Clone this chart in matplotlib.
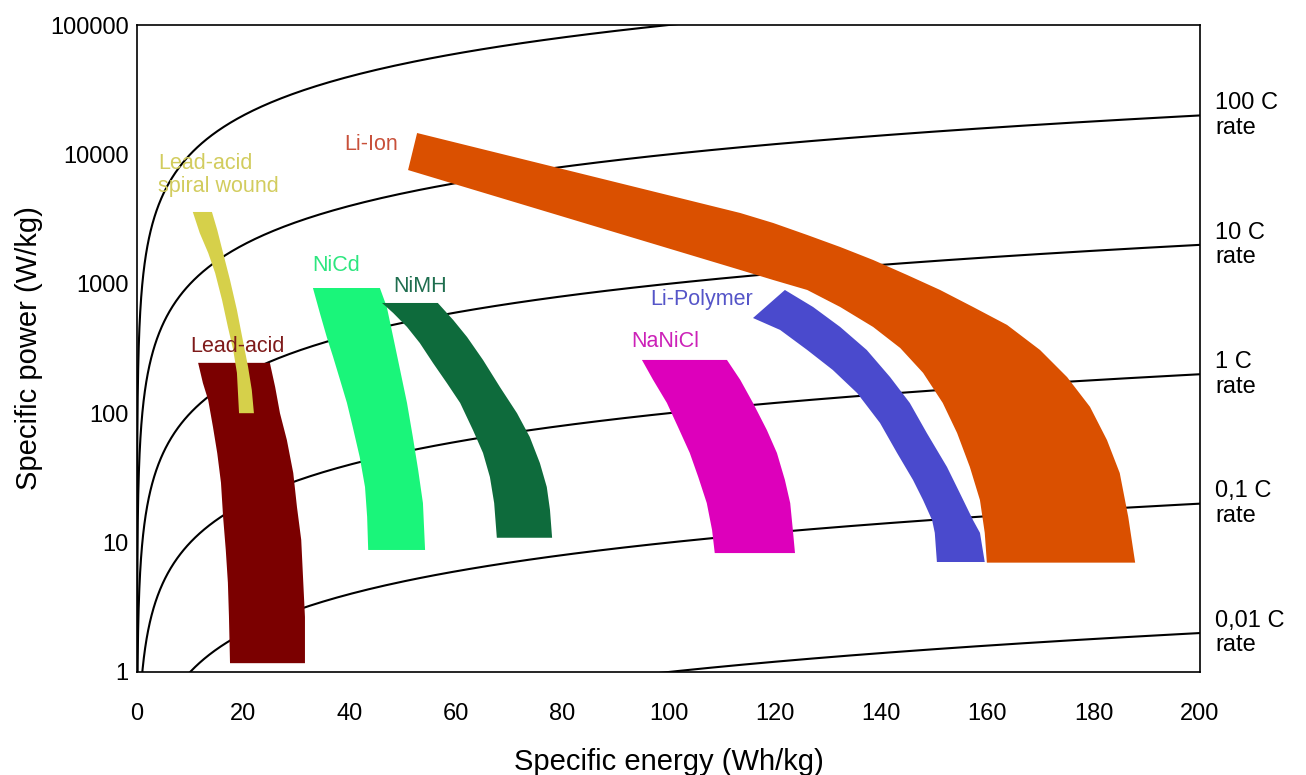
# Ragone plot: specific power vs specific energy with C-rate lines

import numpy as np
import matplotlib
matplotlib.use('Agg')
import matplotlib.pyplot as plt

plt.rcParams['font.family'] = ['Liberation Sans', 'DejaVu Sans']

# C-rate reference lines (P = C * E)
c_rates = [1000, 100, 10, 1, 0.1, 0.01]
c_labels = ['', '100 C\nrate', '10 C\nrate', '1 C\nrate', '0,1 C\nrate', '0,01 C\nrate']

# Lead-acid (edges read top -> bottom)
la_left_E = [11.5, 12.4, 13.4, 14.3, 15.1, 15.8, 16.2, 16.7, 17.1, 17.3, 17.5]
la_left_P = [245, 171, 126, 78, 49, 29, 15.8, 8.8, 4.9, 2.7, 1.17]
la_right_E = [25.0, 26.0, 26.9, 28.2, 29.4, 30.1, 30.9, 31.2, 31.6, 31.6]
la_right_P = [245, 159, 100, 62, 34.5, 18.8, 10.5, 5.8, 2.66, 1.17]

# Lead-acid spiral wound
sw_left_E = [10.5, 11.8, 13.4, 14.7, 16.0, 17.1, 18.1, 18.8, 19.0, 19.2]
sw_left_P = [3590, 2470, 1730, 1212, 750, 464, 308, 205, 143, 100]
sw_right_E = [14.1, 15.1, 16.2, 17.5, 18.8, 19.9, 20.9, 21.6, 22.0]
sw_right_P = [3590, 2605, 1730, 1070, 628, 368, 228, 151, 100]

# NiCd
nicd_left_E = [33.1, 34.4, 35.7, 36.9, 38.2, 39.5, 40.6, 41.9, 42.9, 43.3, 43.5]
nicd_left_P = [928, 595, 388, 272, 181, 120, 78, 45.9, 26.9, 15.8, 8.77]
nicd_right_E = [45.7, 47.0, 48.2, 49.5, 50.8, 51.9, 52.9, 53.8, 54.2]
nicd_right_P = [928, 662, 388, 216, 120, 65.5, 36.4, 20.2, 8.77]

# NiMH
nimh_left_E = [46.1, 48.2, 50.8, 53.2, 55.7, 58.3, 60.8, 63.2, 65.1, 66.4, 67.2, 67.7]
nimh_left_P = [711, 595, 464, 349, 244, 171, 120, 74.2, 49.3, 32.1, 20.2, 10.9]
nimh_right_E = [56.6, 59.5, 62.1, 65.1, 68.3, 71.5, 73.9, 75.8, 77.1, 77.7, 78.1]
nimh_right_P = [711, 525, 388, 258, 159, 100, 65.5, 41.2, 26.9, 17.9, 10.9]

# NaNiCl
nanicl_left_E = [95.0, 97.1, 99.7, 101.8, 104.0, 105.6, 107.2, 108.2, 108.7]
nanicl_left_P = [258, 181, 120, 78, 49.3, 32.1, 20.2, 12.5, 8.3]
nanicl_right_E = [111.0, 113.5, 115.9, 118.5, 120.4, 121.9, 122.9, 123.4, 123.8]
nanicl_right_P = [258, 181, 120, 74.2, 49.3, 30.5, 20.2, 12.5, 8.3]

# Li-Polymer (outer = upper-right edge, inner = lower-left edge)
lp_outer_E = [121.9, 127.2, 132.3, 137.3, 141.7, 145.4, 148.6, 152.4, 154.8, 157.3, 158.6, 159.5]
lp_outer_P = [896, 662, 464, 308, 190, 120, 70.3, 38.4, 24.2, 14.9, 11.9, 7.08]
lp_inner_E = [115.9, 121.0, 126.1, 130.9, 135.5, 139.8, 143.0, 146.0, 147.9, 149.6, 150.1, 150.5]
lp_inner_P = [544, 440, 308, 216, 143, 84, 49.3, 30.5, 21.3, 14.9, 11.9, 7.08]

# Li-Ion
li_upper_E = [52.7, 113.5, 119.7, 126.1, 132.3, 138.5, 144.9, 151.1, 157.3, 163.7, 169.9,
              175.0, 179.3, 182.5, 184.9, 186.5, 187.8]
li_upper_P = [14630, 3525, 2951, 2384, 1925, 1528, 1170, 896, 662, 481, 308,
              190, 112, 62, 34.5, 15.8, 7.0]
li_lower_E = [51.0, 113.5, 119.7, 126.1, 132.3, 138.5, 143.6, 147.9, 151.6, 154.3, 156.7,
              158.6, 159.5, 159.9]
li_lower_P = [7570, 1279, 1070, 896, 662, 464, 319, 205, 120, 70.3, 38.4,
              21.3, 11.9, 7.0]

fig = plt.figure(figsize=(13.06, 7.75), dpi=100)
ax = fig.add_axes([137/1306, 1-672/775, 1063/1306, 647/775])
ax.set_yscale('log')
ax.set_xlim(0, 200)
ax.set_ylim(1, 100000)

# C-rate curves
E = np.geomspace(1e-4, 200, 800)
for c, lab in zip(c_rates, c_labels):
    ax.plot(E, c*E, color='black', lw=1.5, zorder=1)
    if lab:
        ax.annotate(lab, xy=(200, c*200), xytext=(15, 0), textcoords='offset pixels',
                    va='center', ha='left', fontsize=17, linespacing=1.15,
                    annotation_clip=False)

def band(aE, aP, bE, bP, color, z):
    # outline: edge a in order, then edge b reversed
    xs = list(aE) + list(bE)[::-1]
    ys = list(aP) + list(bP)[::-1]
    ax.fill(xs, ys, color=color, lw=0, zorder=z)

band(la_left_E, la_left_P, la_right_E, la_right_P, '#7B0000', 2)
band(sw_left_E, sw_left_P, sw_right_E, sw_right_P, '#D6D04A', 3)
band(nicd_left_E, nicd_left_P, nicd_right_E, nicd_right_P, '#1AF57A', 2)
band(nimh_left_E, nimh_left_P, nimh_right_E, nimh_right_P, '#0E6B3C', 3)
band(nanicl_left_E, nanicl_left_P, nanicl_right_E, nanicl_right_P, '#DD00BB', 2)
band(lp_outer_E, lp_outer_P, lp_inner_E, lp_inner_P, '#4A4ACD', 2)
band(li_upper_E, li_upper_P, li_lower_E, li_lower_P, '#DA5000', 3)

# region labels
lab_kw = dict(fontsize=15.5, va='center', ha='left', zorder=4, linespacing=1.12)
ax.text(4.0, 6900, 'Lead-acid\nspiral wound', color='#D2CC5E', **lab_kw)
ax.text(39.0, 12000, 'Li-Ion', color='#C8503A', **lab_kw)
ax.text(32.9, 1375, 'NiCd', color='#2DE67F', **lab_kw)
ax.text(48.2, 945, 'NiMH', color='#1F6E4F', **lab_kw)
ax.text(10.0, 330, 'Lead-acid', color='#7E1A1A', **lab_kw)
ax.text(96.5, 750, 'Li-Polymer', color='#5555C8', **lab_kw)
ax.text(93.0, 360, 'NaNiCl', color='#CC22B8', **lab_kw)

ax.set_xticks(np.arange(0, 201, 20))
ax.set_yticks([1, 10, 100, 1000, 10000, 100000])
ax.set_yticklabels(['1', '10', '100', '1000', '10000', '100000'])
ax.minorticks_off()
ax.tick_params(axis='both', length=0, labelsize=17)
ax.tick_params(axis='x', pad=22)
ax.tick_params(axis='y', pad=6)
for s in ax.spines.values():
    s.set_linewidth(1.2)

ax.set_xlabel('Specific energy (Wh/kg)', fontsize=21, labelpad=17)
ax.set_ylabel('Specific power (W/kg)', fontsize=21, labelpad=5)

plt.savefig('out.png', dpi=100)
